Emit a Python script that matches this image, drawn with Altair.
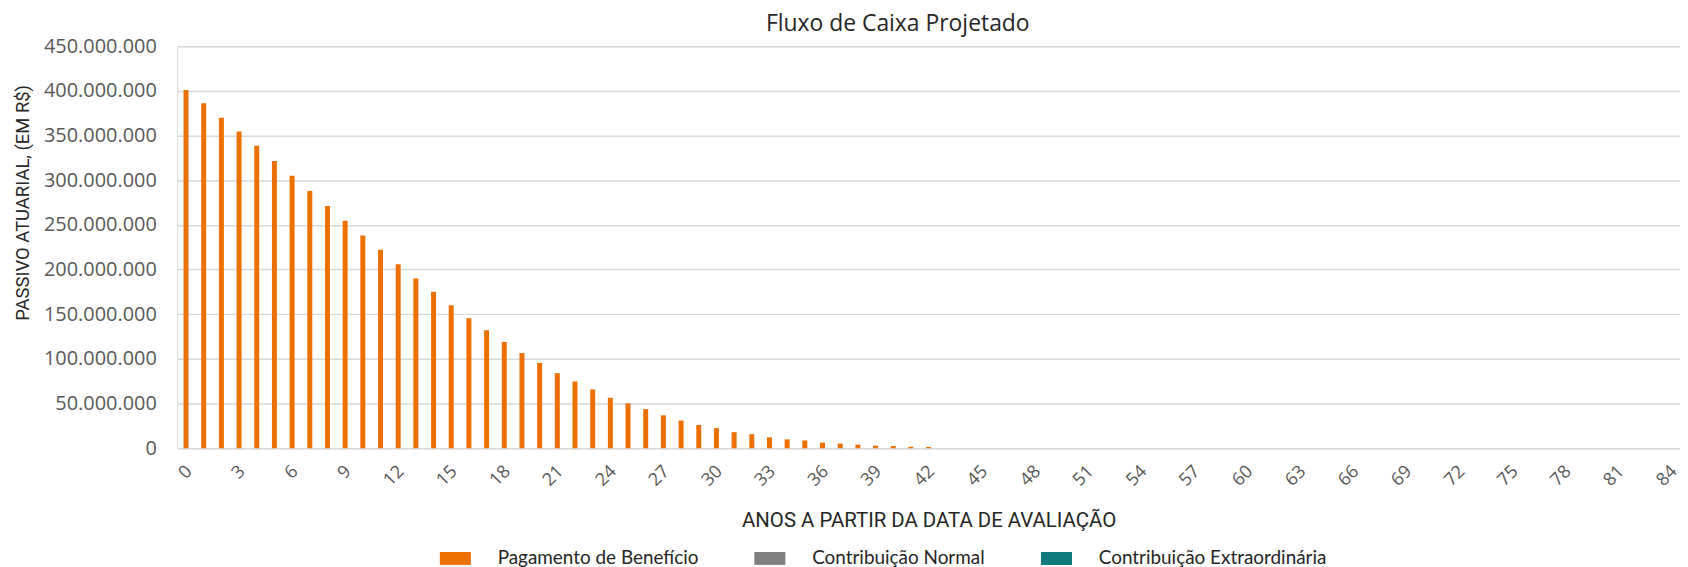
import altair as alt
import pandas as pd

# ---- data ----
anos = list(range(85))
pagamento_beneficio = [
    401000000, 386000000, 370000000, 354500000, 338500000, 321500000, 305000000,
    288000000, 271000000, 254500000, 238000000, 222000000, 206000000, 190000000,
    175000000, 160000000, 145500000, 132000000, 119000000, 106500000, 95500000,
    84000000, 74700000, 65800000, 56500000, 50300000, 43800000, 36800000,
    31000000, 26000000, 22500000, 18000000, 15700000, 12200000, 9900000,
    8700000, 6300000, 5200000, 4000000, 2900000, 2500000, 1700000, 1400000,
    0, 0, 0, 0, 0, 0, 0, 0, 0, 0,
    0, 0, 0, 0, 0, 0, 0, 0, 0, 0,
    0, 0, 0, 0, 0, 0, 0, 0, 0, 0,
    0, 0, 0, 0, 0, 0, 0, 0, 0, 0,
    0, 0,
]
series_names = ["Pagamento de Benefício", "Contribuição Normal", "Contribuição Extraordinária"]
series_colors = ["#EC7000", "#808080", "#0F7B7D"]
x_tick_values = [0, 3, 6, 9, 12, 15, 18, 21, 24, 27, 30, 33, 36, 39, 42, 45, 48,
                 51, 54, 57, 60, 63, 66, 69, 72, 75, 78, 81, 84]
y_tick_values = [0, 50000000, 100000000, 150000000, 200000000, 250000000,
                 300000000, 350000000, 400000000, 450000000]

df = pd.DataFrame({
    "ano": anos,
    "valor": pagamento_beneficio,
    "serie": series_names[0],
})

bars = alt.Chart(df).mark_bar(size=5).encode(
    x=alt.X(
        "ano:O",
        scale=alt.Scale(paddingInner=0, paddingOuter=0),
        axis=alt.Axis(
            values=x_tick_values,
            labelAngle=-45,
            labelFont="Open Sans",
            labelFontSize=18,
            labelColor="#595959",
            labelPadding=14,
            labelOffset=-3,
            ticks=False,
            tickSize=0,
            domain=False,
            grid=False,
            title="ANOS A PARTIR DA DATA DE AVALIAÇÃO",
            titleFont="Roboto",
            titleFontSize=20.5,
            titleFontWeight="normal",
            titleColor="#262626",
            titleBaseline="alphabetic",
            titleY=79,
        ),
    ),
    y=alt.Y(
        "valor:Q",
        scale=alt.Scale(domain=[0, 450000000], nice=False),
        axis=alt.Axis(
            values=y_tick_values,
            format=",d",
            labelFont="Open Sans",
            labelFontSize=20,
            labelColor="#595959",
            labelPadding=21,
            ticks=False,
            tickSize=0,
            domain=False,
            grid=True,
            gridColor="#d9d9d9",
            gridWidth=1.5,
            title="PASSIVO ATUARIAL, (EM R$)",
            titleFont="Roboto",
            titleFontSize=18.5,
            titleFontWeight="normal",
            titleColor="#262626",
            titleAngle=270,
            titleAlign="center",
            titleBaseline="middle",
            titleX=-155,
            titleY=157,
        ),
    ),
    color=alt.Color(
        "serie:N",
        scale=alt.Scale(domain=series_names, range=series_colors),
        legend=alt.Legend(
            title=None,
            orient="none",
            legendX=270,
            legendY=505,
            direction="horizontal",
            symbolType="M-2.4,-1L2.4,-1L2.4,1L-2.4,1Z",
            symbolSize=169,
            symbolStrokeWidth=0,
            symbolOpacity=1,
            labelFont="Lato",
            labelFontSize=19,
            labelColor="#262626",
            labelOffset=33,
            labelLimit=0,
            columnPadding=55,
        ),
    ),
)

chart = bars.properties(
    width=1510,
    height=404,
    padding={"left": 170, "top": 37, "right": 0, "bottom": 118},
    autosize=alt.AutoSizeParams(type="none"),
    title=alt.TitleParams(
        "Fluxo de Caixa Projetado",
        font="Open Sans",
        fontSize=23,
        fontWeight="normal",
        color="#262626",
        anchor="middle",
        baseline="alphabetic",
        dx=-31,
        dy=31,
        offset=13,
    ),
).configure_view(stroke=None).configure(
    locale={"number": {"decimal": ",", "thousands": ".", "grouping": [3],
                       "currency": ["R$", ""]}}
)

chart.save("out.html", embed_options={"renderer": "svg", "actions": False})
